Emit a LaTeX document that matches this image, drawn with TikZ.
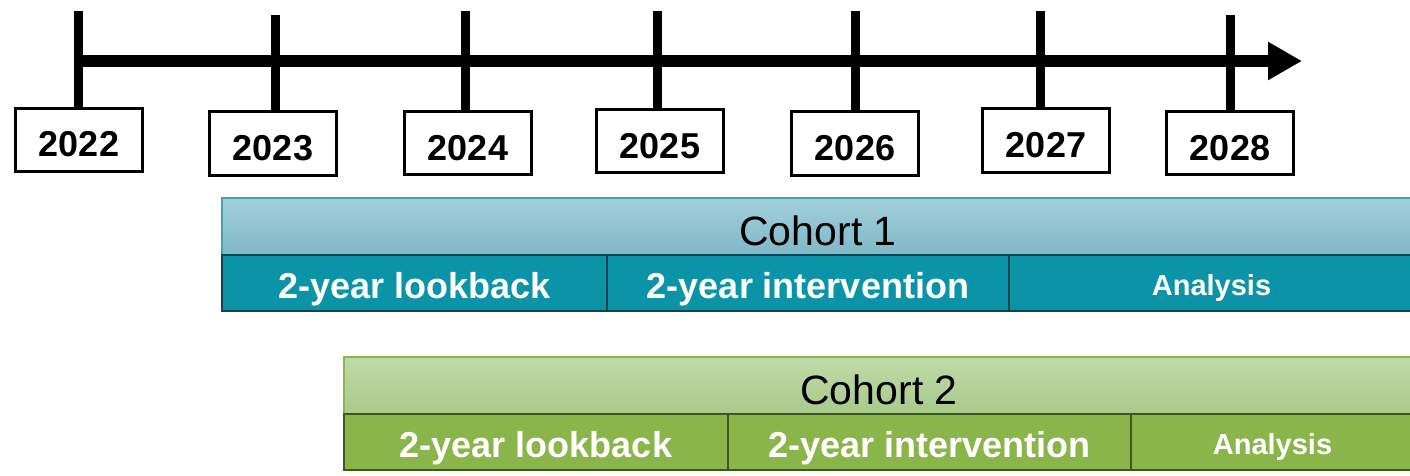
\documentclass[tikz,border=0pt]{standalone}
\usepackage{fontspec}
\setmainfont{Liberation Sans}
\usetikzlibrary{arrows.meta,positioning}

\definecolor{headA}{HTML}{A2CFDB}
\definecolor{headAlow}{HTML}{7FB8C7}
\definecolor{headAline}{HTML}{3FA3B5}
\definecolor{cellA}{HTML}{0B94A8}
\definecolor{cellAline}{HTML}{0E4450}
\definecolor{headB}{HTML}{C1DAA9}
\definecolor{headBlow}{HTML}{A8CA8A}
\definecolor{headBline}{HTML}{8CB650}
\definecolor{cellB}{HTML}{8AB54A}
\definecolor{cellBline}{HTML}{3D5A1E}

\tikzset{
  yearbox/.style={draw, line width=3pt, fill=white, minimum width=127pt,
    minimum height=63pt, inner sep=0pt, text height=34pt, text depth=0pt,
    font=\fontsize{36}{40}\selectfont\bfseries},
  tickline/.style={line width=9pt},
  cohorthead/.style={draw, line width=1.5pt, minimum height=57pt, inner sep=0pt,
    outer sep=0pt, anchor=north west, text height=37pt, text depth=0pt,
    font=\fontsize{41}{48}\selectfont},
  cohortcell/.style={draw, line width=2pt, minimum height=56pt, inner sep=0pt,
    outer sep=0pt, text=white, text height=30pt, text depth=0pt,
    font=\fontsize{36}{40}\selectfont\bfseries},
  analysiscell/.style={cohortcell, text height=24pt,
    font=\fontsize{29}{34}\selectfont\bfseries}
}

\begin{document}
\begin{tikzpicture}[x=1pt,y=-1pt]

	\useasboundingbox (0,0) rectangle (1410,476);

	% timeline
	\coordinate (start) at (78,61);
	\coordinate (end) at (1302,61);
	\draw[line width=12pt, -{Triangle[length=34pt,width=36pt]}] (start) -- (end);

	% years
	\node[yearbox] (y2022) at (79,140) {2022};
	\node[yearbox] (y2023) at (273,143.5) {2023};
	\node[yearbox] (y2024) at (468,143) {2024};
	\node[yearbox] (y2025) at (660,141) {2025};
	\node[yearbox] (y2026) at (855,143.5) {2026};
	\node[yearbox] (y2027) at (1046,140.5) {2027};
	\node[yearbox] (y2028) at (1230,143) {2028};

	\coordinate (t2022) at (78,11);
	\coordinate (t2023) at (275,15);
	\coordinate (t2024) at (465,11);
	\coordinate (t2025) at (657,11);
	\coordinate (t2026) at (855,11);
	\coordinate (t2027) at (1040,11);
	\coordinate (t2028) at (1230,15);

	\foreach \yr in {2022,2023,2024,2025,2026,2027,2028}
		\draw[tickline] (t\yr) -- (t\yr |- y\yr.north);

	% cohort 1
	\node[cohorthead, minimum width=1192pt, draw=headAline,
		top color=headA, bottom color=headAlow] (c1head) at (222,198) {Cohort 1};
	\node[cohortcell, fill=cellA, draw=cellAline, minimum width=385pt,
		anchor=north west] (c1look) at (222,255) {2-year lookback};
	\node[cohortcell, fill=cellA, draw=cellAline, minimum width=402pt,
		right=0pt of c1look] (c1int) {2-year intervention};
	\node[analysiscell, fill=cellA, draw=cellAline, minimum width=405pt,
		right=0pt of c1int] (c1ana) {Analysis};

	% cohort 2
	\node[cohorthead, minimum width=1070pt, draw=headBline,
		top color=headB, bottom color=headBlow] (c2head) at (344,357) {Cohort 2};
	\node[cohortcell, fill=cellB, draw=cellBline, minimum width=384pt,
		anchor=north west] (c2look) at (344,414) {2-year lookback};
	\node[cohortcell, fill=cellB, draw=cellBline, minimum width=403pt,
		right=0pt of c2look] (c2int) {2-year intervention};
	\node[analysiscell, fill=cellB, draw=cellBline, minimum width=283pt,
		right=0pt of c2int] (c2ana) {Analysis};

\end{tikzpicture}
\end{document}
